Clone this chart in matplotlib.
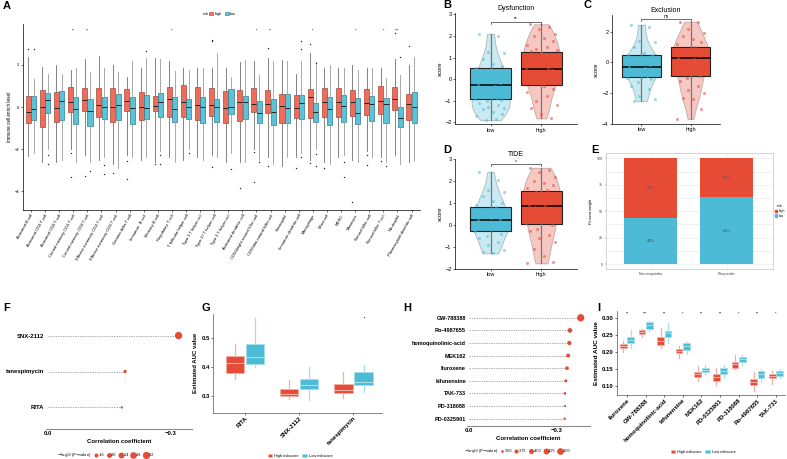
import numpy as np
import matplotlib
matplotlib.use('Agg')
import matplotlib.pyplot as plt
from matplotlib.patches import Patch
from matplotlib.lines import Line2D

plt.rcParams['font.family'] = ['Liberation Sans', 'DejaVu Sans']
plt.rcParams['axes.linewidth'] = 0.5
plt.rcParams['mathtext.fontset'] = 'dejavusans'

RED = '#E64B35'
BLUE = '#4DBBD5'

# ------------------------------
# Panel A data: immune cell enrichment (box stats)
# ------------------------------
cells = ['Activated B cell', 'Activated CD4 T cell', 'Activated CD8 T cell',
         'Central memory CD4 T cell', 'Central memory CD8 T cell',
         'Effector memeory CD4 T cell', 'Effector memeory CD8 T cell',
         'Gamma delta T cell', 'Immature  B cell', 'Memory B cell',
         'Regulatory T cell', 'T follicular helper cell', 'Type 1 T helper cell',
         'Type 17 T helper cell', 'Type 2 T helper cell', 'Activated dendritic cell',
         'CD56bright natural killer cell', 'CD56dim natural killer cell',
         'Eosinophil', 'Immature dendritic cell', 'Macrophage', 'Mast cell',
         'MDSC', 'Monocyte', 'Natural killer cell', 'Natural killer T cell',
         'Neutrophil', 'Plasmacytoid dendritic cell']

a_hi_q3 = [0.52, 0.81, 0.73, 0.94, 0.90, 0.92, 0.89, 0.84, 0.70, 0.51, 0.94, 1.03, 0.97, 0.92,
           0.76, 0.79, 0.89, 0.81, 0.62, 0.57, 0.84, 0.89, 0.92, 0.79, 0.84, 0.98, 0.94, 0.60]
a_hi_med = [-0.25, -0.02, -0.06, 0.25, 0.35, 0.08, -0.02, 0.27, -0.02, 0.03, 0.37, 0.24, 0.11, 0.08,
            -0.06, 0.22, 0.14, 0.14, 0.05, -0.06, 0.46, 0.24, 0.24, 0.22, 0.19, 0.29, 0.38, 0.13]
a_hi_q1 = [-0.75, -0.94, -0.73, -0.25, -0.21, -0.49, -0.73, -0.17, -0.62, -0.19, -0.46, -0.48, -0.62, -0.44,
           -0.75, -0.65, -0.25, -0.30, -0.75, -0.54, -0.51, -0.49, -0.48, -0.44, -0.40, -0.35, -0.14, -0.62]
a_hi_top = [2.37, 1.92, 2.0, 1.76, 2.27, 2.44, 2.0, 1.41, 1.84, 2.32, 2.19, 1.84, 1.87, 1.84,
            1.84, 2.16, 2.19, 2.32, 2.24, 1.57, 2.56, 1.84, 1.84, 2.0, 1.84, 1.84, 2.27, 2.0]
a_hi_bot = [-2.35, -2.6, -2.6, -2.0, -2.3, -2.5, -2.7, -2.3, -2.5, -2.6, -2.4, -2.5, -2.4, -2.3,
            -2.6, -2.6, -2.0, -2.4, -2.8, -2.4, -2.5, -2.6, -2.4, -2.5, -2.1, -2.4, -2.3, -2.6]
a_hi_out = [[2.75], [], [], [-2.2, -3.32], [-3.27], [], [-3.16], [-2.56, -3.44], [], [-2.73], [], [], [],
            [3.16, 3.2, -2.84], [], [-3.84], [-2.13, -3.59], [2.79, -2.79], [], [-2.92], [2.98, -2.68],
            [-2.92], [], [-4.51], [-2.29, -2.76], [-2.56], [3.54], [2.92]]

a_lo_q3 = [0.54, 0.68, 0.75, 0.49, 0.38, 0.46, 0.60, 0.46, 0.57, 0.68, 0.46, 0.37, 0.46, 0.37,
           0.84, 0.51, 0.30, 0.40, 0.62, 0.59, 0.19, 0.49, 0.59, 0.41, 0.54, 0.41, 0.02, 0.70]
a_lo_med = [-0.08, 0.33, 0.30, -0.10, -0.21, -0.02, 0.08, -0.06, -0.05, 0.24, -0.08, -0.02, -0.02, -0.02,
            -0.02, 0.25, -0.30, -0.25, -0.06, 0.19, -0.25, -0.10, 0.06, -0.30, 0.13, 0.13, -0.52, 0.02]
a_lo_q1 = [-0.62, -0.30, -0.62, -0.83, -0.89, -0.57, -0.62, -0.79, -0.59, -0.49, -0.73, -0.57, -0.78, -0.71,
           -0.35, -0.57, -0.78, -0.86, -0.75, -0.56, -0.73, -0.84, -0.70, -0.83, -0.68, -0.78, -0.97, -0.78]
a_lo_top = [1.33, 1.57, 1.57, 1.84, 1.68, 1.84, 1.68, 2.19, 2.32, 2.27, 1.71, 1.76, 1.84, 2.56,
            1.44, 2.24, 1.52, 2.21, 2.19, 2.19, 2.16, 2.0, 1.84, 1.76, 1.84, 1.37, 1.52, 2.40]
a_lo_bot = [-2.2, -2.0, -2.5, -2.6, -2.6, -2.4, -2.9, -2.4, -2.4, -2.1, -2.6, -2.0, -2.5, -2.4,
            -2.2, -2.6, -2.5, -2.7, -2.4, -2.2, -2.0, -2.7, -2.3, -2.6, -2.4, -2.6, -2.7, -2.5]
a_lo_out = [[2.75], [-2.27, -2.71], [], [], [-3.03], [-2.76, -3.19], [], [], [2.68], [-2.29, -2.73], [],
            [-2.17], [], [], [-2.95], [], [-2.6], [], [], [3.16, 2.76, -2.4], [2.11, -2.24, -2.81], [],
            [-2.6, -3.35], [], [], [-2.81], [2.4], []]
a_sig = ['', '', '', '**', '**', '', '', '', '', '', '*', '', '', '', '', '', '*', '**', '', '',
         '*', '', '', '*', '', '*', '***', '']

# ------------------------------
# Panels B-D: score points and box stats (low, high)
# ------------------------------
b_low = [2.1, 2.0, 1.25, 1.2, 0.95, 0.7, 0.6, 0.5, 0.35, 0.2, 0.1, 0.0, -0.1, -0.2, -0.25, -0.3, -0.45,
         -0.6, -0.75, -0.85, -0.9, -0.95, -1.0, -1.1, -1.2, -1.3, -1.35, -1.4, -1.5, -1.6, -1.7, -1.85, -1.9]
b_high = [2.54, 2.4, 2.3, 2.1, 2.0, 1.9, 1.75, 1.6, 1.5, 1.4, 1.35, 1.3, 1.2, 1.1, 1.0, 0.9, 0.8, 0.7,
          0.6, 0.5, 0.45, 0.4, 0.3, 0.2, 0.1, 0.0, -0.1, -0.2, -0.3, -0.45, -0.6, -0.8, -1.0, -1.2,
          -1.35, -1.6, -1.82]
b_box = [(-0.9, -0.25, 0.53), (-0.27, 0.45, 1.24)]

c_low = [2.45, 2.3, 1.4, 1.3, 1.0, 0.6, 0.5, 0.45, 0.3, 0.2, 0.1, 0.0, -0.1, -0.2, -0.27, -0.35, -0.45,
         -0.6, -0.75, -0.9, -1.0, -1.1, -1.3, -1.5, -1.7, -2.2, -2.4, -2.5]
c_high = [2.65, 2.6, 2.2, 1.9, 1.7, 1.5, 1.3, 1.2, 1.0, 0.9, 0.8, 0.6, 0.5, 0.4, 0.3, 0.2, 0.1, -0.1,
          -0.3, -0.5, -0.7, -0.9, -1.0, -1.2, -1.5, -1.8, -2.0, -2.3, -2.4, -3.0, -3.67]
c_box = [(-0.96, -0.27, 0.49), (-0.88, 0.31, 0.99)]

d_low = [2.42, 2.05, 1.6, 1.5, 1.3, 1.1, 1.0, 0.9, 0.8, 0.7, 0.55, 0.4, 0.3, 0.25, 0.2, 0.15, 0.1, 0.0,
         -0.1, -0.2, -0.3, -0.4, -0.5, -0.6, -0.8, -0.9, -1.15, -1.25, -1.3]
d_high = [2.6, 2.5, 2.4, 2.2, 2.0, 1.9, 1.8, 1.7, 1.6, 1.5, 1.3, 1.2, 1.1, 1.0, 0.9, 0.85, 0.8, 0.6,
          0.5, 0.3, 0.1, 0.0, -0.2, -0.3, -0.45, -0.6, -0.8, -1.1, -1.4, -1.7, -1.76]
d_box = [(-0.29, 0.21, 0.82), (0.03, 0.85, 1.55)]

# Panel E: percent weight
e_groups = ['Non-responder', 'Responder']
e_low = [44, 63]
e_high = [56, 37]

# Panel F / H: correlation lollipops (bottom to top)
f_drugs = ['RITA', 'tanespimycin', 'SNX-2112']
f_cor = [-0.18, -0.188, -0.318]
f_logp = [1.15, 1.4, 3.2]
f_breaks = [1.6, 2.0, 2.4, 2.8, 3.2]

h_drugs = ['PD-0325901', 'PD-318088', 'TAK-733', 'kifunensine', 'fluroxene', 'MEK162',
           'homoquinolinic-acid', 'Ro-4987655', 'GW-788388']
h_cor = [-0.328, -0.329, -0.329, -0.332, -0.336, -0.340, -0.344, -0.346, -0.383]
h_logp = [3.44, 3.44, 3.50, 3.54, 3.67, 3.73, 3.80, 3.89, 4.73]
h_breaks = [3.50, 3.75, 4.00, 4.25, 4.50]

# Panel G: AUC boxes (q1, med, q3, whislo, whishi)
g_drugs = ['RITA', 'SNX-2112', 'tanespimycin']
g_high = [(0.377, 0.412, 0.437, 0.357, 0.478), (0.297, 0.305, 0.322, 0.289, 0.354),
          (0.308, 0.321, 0.339, 0.293, 0.381)]
g_low = [(0.409, 0.433, 0.478, 0.398, 0.567), (0.323, 0.336, 0.358, 0.285, 0.398),
         (0.335, 0.346, 0.381, 0.314, 0.406)]
g_low_out = [[], [], [0.570]]

# Panel I
i_drugs = ['fluroxene', 'GW-788388', 'homoquinolinic-acid', 'kifunensine', 'MEK162',
           'PD-0325901', 'PD-318088', 'Ro-4987655', 'TAK-733']
i_high = [(0.2107, 0.2177, 0.2226, 0.199, 0.2325), (0.2534, 0.260, 0.2663, 0.2454, 0.270),
          (0.2206, 0.2335, 0.2435, 0.2107, 0.272), (0.1968, 0.2038, 0.2087, 0.1829, 0.2187),
          (0.1244, 0.1343, 0.1413, 0.1145, 0.1591), (0.1145, 0.1264, 0.1343, 0.1016, 0.1512),
          (0.1532, 0.163, 0.169, 0.1492, 0.1909), (0.1016, 0.1115, 0.1185, 0.0837, 0.1393),
          (0.1214, 0.1284, 0.1333, 0.1036, 0.1442)]
i_low = [(0.2256, 0.2355, 0.2454, 0.2127, 0.265), (0.270, 0.280, 0.288, 0.262, 0.292),
         (0.2454, 0.2554, 0.2623, 0.2256, 0.285), (0.2058, 0.2177, 0.2256, 0.1939, 0.2306),
         (0.1393, 0.1472, 0.1532, 0.1313, 0.1611), (0.1333, 0.1433, 0.1512, 0.1214, 0.1611),
         (0.169, 0.178, 0.1849, 0.1611, 0.1909), (0.1234, 0.1343, 0.1433, 0.1115, 0.1482),
         (0.1294, 0.1373, 0.1433, 0.1214, 0.1492)]
i_sig = ['**', '***', '**', '*', '**', '**', '*', '**', '*']

# ------------------------------
# Figure helpers
# ------------------------------
W, H = 787, 459
fig = plt.figure(figsize=(W / 100, H / 100), dpi=100)


def fx(x):
    return x / W


def fy(y):
    return 1 - y / H


def add_ax(x0, y0, x1, y1):
    return fig.add_axes([x0 / W, 1 - y1 / H, (x1 - x0) / W, (y1 - y0) / H])


def classic(ax):
    ax.spines['top'].set_visible(False)
    ax.spines['right'].set_visible(False)


for lab, x, y in [('A', 3, 6), ('B', 443, 5), ('C', 583, 5), ('D', 443, 150), ('E', 591, 150),
                  ('F', 3, 308), ('G', 201, 308), ('H', 403, 308), ('I', 597, 308)]:
    fig.text(fx(x), fy(y), lab, fontsize=8, fontweight='bold', va='center', ha='left')

# ------------------------------
# A
# ------------------------------
axA = add_ax(22.5, 24, 420, 210)
pos = np.arange(1, len(cells) + 1)


def make_stats(q1, med, q3, lo, hi, out):
    return [dict(q1=a, med=b, q3=c, whislo=d, whishi=e, fliers=f)
            for a, b, c, d, e, f in zip(q1, med, q3, lo, hi, out)]


A_RED, A_RED_E = '#EF6C5A', '#A8473A'
A_BLUE, A_BLUE_E = '#5BC2D8', '#2E7D8F'
flier = dict(marker='o', markersize=1.0, markerfacecolor='#222222', markeredgecolor='none')
axA.bxp(make_stats(a_hi_q1, a_hi_med, a_hi_q3, a_hi_bot, a_hi_top, a_hi_out),
        positions=pos - 0.19, widths=0.36, patch_artist=True, showcaps=False,
        boxprops=dict(facecolor=A_RED, edgecolor=A_RED_E, linewidth=0.5),
        medianprops=dict(color='#222222', linewidth=0.7),
        whiskerprops=dict(color='#6E6E6E', linewidth=0.6), flierprops=flier)
axA.bxp(make_stats(a_lo_q1, a_lo_med, a_lo_q3, a_lo_bot, a_lo_top, a_lo_out),
        positions=pos + 0.19, widths=0.36, patch_artist=True, showcaps=False,
        boxprops=dict(facecolor=A_BLUE, edgecolor=A_BLUE_E, linewidth=0.5),
        medianprops=dict(color='#222222', linewidth=0.7),
        whiskerprops=dict(color='#9A9A9A', linewidth=0.6), flierprops=flier)
for p, s in zip(pos, a_sig):
    axA.text(p, 3.62, s, ha='center', va='center', fontsize=2.6)
axA.set_xlim(0.4, len(cells) + 0.6)
axA.set_ylim(-4.9, 3.95)
axA.set_yticks([-4, -2, 0, 2])
axA.set_xticks(pos)
axA.set_xticklabels(cells, rotation=60, ha='right', rotation_mode='anchor')
axA.tick_params(length=1.5, width=0.4, labelsize=3, pad=1)
axA.set_ylabel('Immune cell enrich level', fontsize=3.3, labelpad=2)
classic(axA)
fig.text(fx(203), fy(14), 'risk', fontsize=2.8, va='center', ha='left')
fig.legend(handles=[Patch(facecolor=A_RED, edgecolor=A_RED_E, lw=0.4),
                    Patch(facecolor=A_BLUE, edgecolor=A_BLUE_E, lw=0.4)],
           labels=['high', 'low'], loc='center left', bbox_to_anchor=(fx(209), fy(14)),
           ncol=2, frameon=False, fontsize=2.8, handlelength=1.0, handleheight=0.9,
           handletextpad=0.4, columnspacing=0.8, borderpad=0, borderaxespad=0)

# ------------------------------
# B, C, D violin + box + points
# ------------------------------
jit = np.array([-0.22, 0.15, -0.05, 0.27, -0.15, 0.05, 0.22, -0.28, 0.1, -0.1, 0.3, -0.2, 0.0,
                0.18, -0.25, 0.08, -0.12, 0.25, -0.02, 0.12, -0.3, 0.2, -0.08])


def violin_box(ax, p, ys, box, color):
    ys = np.asarray(ys)
    vp = ax.violinplot([ys], positions=[p], widths=0.75, showextrema=False, bw_method=0.4)
    for body in vp['bodies']:
        body.set_facecolor(matplotlib.colors.to_rgba(color, 0.5))
        body.set_edgecolor('#333333')
        body.set_linewidth(0.6)
        body.set_zorder(1)
    q1, med, q3 = box
    ax.bxp([dict(q1=q1, med=med, q3=q3, whislo=ys.min(), whishi=ys.max(), fliers=[])],
           positions=[p], widths=0.8, patch_artist=True, showcaps=False, zorder=2,
           boxprops=dict(facecolor=color, edgecolor='#222222', linewidth=0.8),
           medianprops=dict(color='black', linewidth=1.1),
           whiskerprops=dict(color='#777777', linewidth=0.9))
    dx = jit[np.arange(len(ys)) % len(jit)]
    ax.scatter(p + dx, ys, s=5, color=color, alpha=0.55, linewidths=0, zorder=3)


def score_panel(ax, low, high, boxes, title, yb, sig, ylim, yticks, xlim):
    violin_box(ax, 1, low, boxes[0], BLUE)
    violin_box(ax, 2, high, boxes[1], RED)
    ax.plot([1, 1, 2, 2], [yb - 0.1, yb, yb, yb - 0.1], color='#333333', lw=0.5)
    ax.text(1.5, yb + 0.02, sig, ha='center', va='bottom', fontsize=3.5)
    ax.set_xlim(*xlim)
    ax.set_ylim(*ylim)
    ax.set_yticks(yticks)
    ax.set_xticks([1, 2])
    ax.set_xticklabels(['low', 'high'])
    ax.tick_params(length=1.5, width=0.4, labelsize=4, pad=1)
    ax.set_ylabel('score', fontsize=4.2, labelpad=2)
    ax.set_title(title, fontsize=5, pad=2)
    classic(ax)


axB = add_ax(455, 13, 577, 124.3)
score_panel(axB, b_low, b_high, b_box, 'Dysfunction', 2.66, '**', (-2.09, 3.06),
            [-2, -1, 0, 1, 2, 3], (0.3, 2.7))
axC = add_ax(612, 15, 720, 124)
score_panel(axC, c_low, c_high, c_box, 'Exclusion', 2.8, 'ns', (-4, 3.08),
            [-4, -2, 0, 2], (0.4, 2.6))
axD = add_ax(455, 159, 577, 268.7)
score_panel(axD, d_low, d_high, d_box, 'TIDE', 2.76, '*', (-2, 3.0),
            [-2, -1, 0, 1, 2, 3], (0.3, 2.7))

# ------------------------------
# E stacked percent bars
# ------------------------------
axE = add_ax(606, 153, 773, 269)
xe = np.arange(1, len(e_groups) + 1)
axE.bar(xe, e_low, width=0.7, color=BLUE, zorder=2)
axE.bar(xe, e_high, bottom=e_low, width=0.7, color=RED, zorder=2)
for x, lo, hi in zip(xe, e_low, e_high):
    axE.text(x, lo / 2, f'{lo}%', ha='center', va='center', fontsize=3, color='#555555', zorder=3)
    axE.text(x, lo + hi / 2, f'{hi}%', ha='center', va='center', fontsize=3, color='#555555', zorder=3)
axE.set_xlim(0.41, 2.61)
axE.set_ylim(-4.7, 105)
axE.set_yticks([0, 25, 50, 75, 100])
axE.set_yticks([12.5, 37.5, 62.5, 87.5], minor=True)
axE.set_xticks(xe)
axE.set_xticklabels(e_groups)
axE.grid(True, which='both', color='#EBEBEB', lw=0.5, zorder=0)
axE.tick_params(length=1, width=0.3, labelsize=2.6, pad=1, colors='#444444')
axE.tick_params(which='minor', length=0)
for sp in axE.spines.values():
    sp.set_color('#CFCFCF')
    sp.set_linewidth(0.6)
axE.set_ylabel('Percent weight', fontsize=2.8, labelpad=3)
axE.legend(handles=[Patch(color=RED), Patch(color=BLUE)], labels=['high', 'low'], title='risk',
           loc='center left', bbox_to_anchor=(1.01, 0.5), frameon=False, fontsize=2.4,
           title_fontsize=2.6, handlelength=0.8, handleheight=0.8, handletextpad=0.3,
           borderpad=0, borderaxespad=0, labelspacing=0.2)

# ------------------------------
# F, H lollipops
# ------------------------------
def f_size(v):
    return 4.83 * np.sqrt(np.asarray(v) - 0.914) * 0.72


def h_size(v):
    return 6.1 * np.sqrt(np.asarray(v) - 3.3) * 0.72


def lollipop(ax, drugs, cor, logp, sizefn, breaks, xlim, label_fs, legend_x, legend_y, title_x):
    y = np.arange(1, len(drugs) + 1)
    ax.hlines(y, 0, cor, colors='#8A8A8A', linestyles=(0, (2, 1.5)), lw=0.5)
    ax.scatter(cor, y, s=sizefn(logp) ** 2, color=RED, linewidths=0, zorder=3)
    ax.set_xlim(*xlim)
    ax.set_ylim(0.4 if len(drugs) < 5 else 0.44, len(drugs) + (0.6 if len(drugs) < 5 else 0.56))
    ax.set_yticks(y)
    ax.set_yticklabels(drugs, fontsize=label_fs, fontweight='bold')
    ax.set_xticks([0, -0.3])
    ax.set_xticklabels(['0.0', '\u22120.3'], fontsize=4.3, fontweight='bold')
    ax.tick_params(axis='y', length=0, pad=1)
    ax.tick_params(axis='x', length=0, pad=1.5)
    for s in ['top', 'right', 'left']:
        ax.spines[s].set_visible(False)
    ax.spines['bottom'].set_color('#8A8A8A')
    ax.spines['bottom'].set_linewidth(0.8)
    ax.set_xlabel('Correlation coefficient', fontsize=4.3, fontweight='bold', labelpad=2)
    fig.text(fx(title_x), fy(legend_y), r'$-\log_{10}$($P$$-$value)', fontsize=3,
             va='center', ha='left')
    handles = [Line2D([], [], marker='o', ls='', markerfacecolor=RED, markeredgecolor='none',
                      markersize=float(sizefn(b))) for b in breaks]
    fig.legend(handles=handles, labels=[f'{b:.1f}' if len(drugs) < 5 else f'{b:.2f}' for b in breaks],
               loc='center left', bbox_to_anchor=(fx(legend_x), fy(legend_y)), ncol=len(breaks),
               frameon=False, fontsize=2.8, handlelength=1.0, handletextpad=0.2,
               columnspacing=0.6, borderpad=0, borderaxespad=0)


axF = add_ax(45.7, 314, 191.7, 429)
lollipop(axF, f_drugs, f_cor, f_logp, f_size, f_breaks, (0.005, -0.35), 4.3, 94, 455, 57)
axH = add_ax(467.3, 310.7, 590, 425.7)
lollipop(axH, h_drugs, h_cor, h_logp, h_size, h_breaks, (0.007, -0.415), 4.0, 500, 451, 464)

# ------------------------------
# G, I AUC boxes
# ------------------------------
def auc_boxes(ax, high, low, off, width, low_out=None):
    n = len(high)
    xs = np.arange(1, n + 1)
    if low_out is None:
        low_out = [[] for _ in range(n)]
    for data, sh, col, light, outs in [(high, -off, RED, '#F4AFA4', [[] for _ in range(n)]),
                                       (low, off, BLUE, '#A6DEEA', low_out)]:
        st = [dict(q1=a, med=b, q3=c, whislo=d, whishi=e, fliers=o)
              for (a, b, c, d, e), o in zip(data, outs)]
        ax.bxp(st, positions=xs + sh, widths=width, patch_artist=True, showcaps=False,
               boxprops=dict(facecolor=col, edgecolor=light, linewidth=0.6),
               medianprops=dict(color=light, linewidth=0.8),
               whiskerprops=dict(color=light, linewidth=0.9),
               flierprops=dict(marker='o', markersize=0.9, markerfacecolor='#333333',
                               markeredgecolor='none'))
    return xs


axG = add_ax(212.7, 314, 381.7, 412.7)
xg = auc_boxes(axG, g_high, g_low, 0.185, 0.34, g_low_out)
axG.set_xlim(0.405, 3.52)
axG.set_ylim(0.241, 0.582)
axG.set_yticks([0.3, 0.4, 0.5])
axG.set_xticks(xg)
axG.set_xticklabels(g_drugs, rotation=45, ha='right', rotation_mode='anchor', fontweight='bold')
axG.tick_params(length=1.2, width=0.4, labelsize=4.3, pad=1)
for t in axG.get_yticklabels():
    t.set_fontweight('bold')
axG.set_ylabel('Estimated AUC value', fontsize=4.3, fontweight='bold', labelpad=2)
classic(axG)
for sp in ['left', 'bottom']:
    axG.spines[sp].set_color('#555555')

axI = add_ax(616.7, 310.7, 785, 395)
xi = auc_boxes(axI, i_high, i_low, 0.2, 0.36)
for x, s in zip(xi, i_sig):
    axI.text(x, 0.315, s, ha='center', va='center', fontsize=2.8)
axI.set_xlim(0.446, 9.49)
axI.set_ylim(0.072, 0.323)
axI.set_yticks([0.10, 0.15, 0.20, 0.25, 0.30])
axI.set_yticklabels(['0.10', '0.15', '0.20', '0.25', '0.30'])
axI.set_xticks(xi)
axI.set_xticklabels(i_drugs, rotation=45, ha='right', rotation_mode='anchor', fontweight='bold')
axI.tick_params(length=1.2, width=0.4, labelsize=4.3, pad=1)
for t in axI.get_yticklabels():
    t.set_fontweight('bold')
axI.set_ylabel('Estimated AUC value', fontsize=4.6, fontweight='bold', labelpad=2)
classic(axI)
for sp in ['left', 'bottom']:
    axI.spines[sp].set_color('#555555')

for cx, cy in [(300, 456), (703, 452)]:
    fig.legend(handles=[Patch(facecolor=RED, edgecolor='#F4AFA4', lw=0.4),
                        Patch(facecolor=BLUE, edgecolor='#A6DEEA', lw=0.4)],
               labels=['High riskscore', 'Low riskscore'], loc='center',
               bbox_to_anchor=(fx(cx), fy(cy)), ncol=2, frameon=False, fontsize=2.8,
               handlelength=1.2, handleheight=0.9, handletextpad=0.4, columnspacing=1.0,
               borderpad=0, borderaxespad=0)

fig.savefig('out.png', dpi=100)
